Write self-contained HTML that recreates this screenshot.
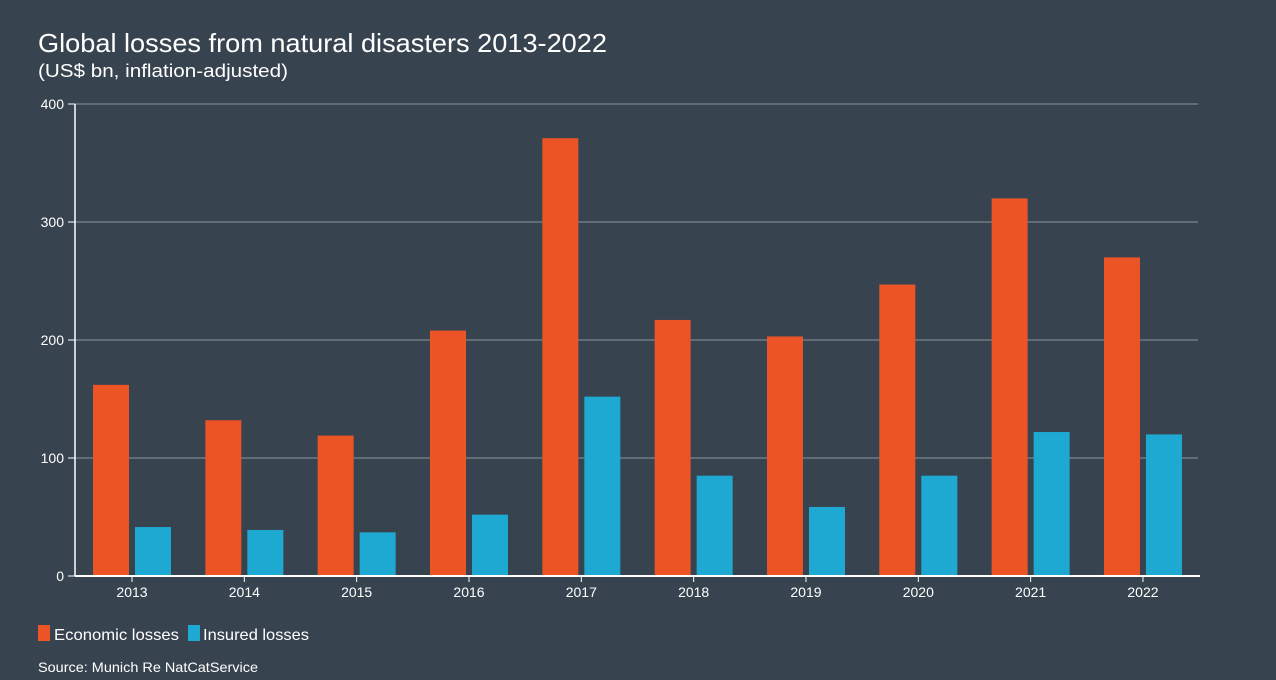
<!DOCTYPE html>
<html><head><meta charset="utf-8"><style>
body{margin:0;background:#37444f;width:1276px;height:675px;overflow:hidden;font-family:"Liberation Sans",sans-serif;color:#fff}
</style></head><body>
<svg width="1276" height="675">
<rect width="1276" height="675" fill="#37444f"/>
<text x="38" y="52" font-size="26" fill="#fff" textLength="569" lengthAdjust="spacingAndGlyphs">Global losses from natural disasters 2013-2022</text>
<text x="38" y="77" font-size="18" fill="#fff" textLength="250" lengthAdjust="spacingAndGlyphs">(US$ bn, inflation-adjusted)</text>
<g id="plot"></g>
<rect x="38" y="625" width="12" height="16" fill="#ec5426"/>
<text x="54" y="640" font-size="16" fill="#fff" textLength="125" lengthAdjust="spacingAndGlyphs">Economic losses</text>
<rect x="188" y="625" width="12" height="16" fill="#1ea9d2"/>
<text x="203" y="640" font-size="16" fill="#fff" textLength="106" lengthAdjust="spacingAndGlyphs">Insured losses</text>
<text x="38" y="672" font-size="14" fill="#fff" textLength="220" lengthAdjust="spacingAndGlyphs">Source: Munich Re NatCatService</text>
</svg>
<script>
const categories=["2013","2014","2015","2016","2017","2018","2019","2020","2021","2022"];
const economic=[162,132,119,208,371,217,203,247,320,270];
const insured=[41.5,39,37,52,152,85,58.5,85,122,120];
const yTicks=[0,100,200,300,400];
const NS="http://www.w3.org/2000/svg";
const g=document.getElementById("plot");
const y=v=>576-v*1.18;
const xc=i=>132+i*112.33;
function mk(t,a){const e=document.createElementNS(NS,t);for(const k in a)e.setAttribute(k,a[k]);g.appendChild(e);return e;}
yTicks.forEach(t=>{
 if(t>0){const l=mk("line",{x1:75,x2:1198,y1:y(t),y2:y(t),stroke:"#8a949c","stroke-width":1});
 
 }
 const tk=mk("line",{x1:68,x2:75,y1:y(t),y2:y(t),stroke:"#fff"});
 
 
 const tx=mk("text",{x:64,y:y(t)+5,"font-size":14,fill:"#fff","text-anchor":"end"});
 tx.textContent=t;
 
 
});
categories.forEach((c,i)=>{
 const b1=mk("rect",{x:xc(i)-39,y:y(economic[i]),width:36,height:economic[i]*1.18,fill:"#ec5426"});
 
 
 const b2=mk("rect",{x:xc(i)+3,y:y(insured[i]),width:36,height:insured[i]*1.18,fill:"#1ea9d2"});
 
 
 const tk=mk("line",{x1:xc(i),x2:xc(i),y1:576,y2:582,stroke:"#fff"});
 
 
 const tx=mk("text",{x:xc(i),y:597,"font-size":14,fill:"#fff","text-anchor":"middle"});
 tx.textContent=c;
 
 
});
const ax=mk("line",{x1:75,x2:75,y1:104,y2:576,stroke:"#fff","stroke-width":1.5});


const bx=mk("line",{x1:75,x2:1200,y1:576,y2:576,stroke:"#fff","stroke-width":2});


</script>
</body></html>
